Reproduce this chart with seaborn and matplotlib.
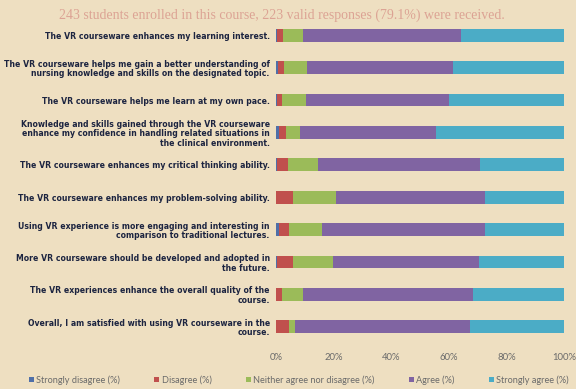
import matplotlib
matplotlib.use("Agg")
import matplotlib.pyplot as plt
from matplotlib.patches import Patch
import numpy as np
import pandas as pd
import seaborn as sns

statements = [
    "The VR courseware enhances my learning interest.",
    "The VR courseware helps me gain a better understanding of\nnursing knowledge and skills on the designated topic.",
    "The VR courseware helps me learn at my own pace.",
    "Knowledge and skills gained through the VR courseware\nenhance my confidence in handling related situations in\nthe clinical environment.",
    "The VR courseware enhances my critical thinking ability.",
    "The VR courseware enhances my problem-solving ability.",
    "Using VR experience is more engaging and interesting in\ncomparison to traditional lectures.",
    "More VR courseware should be developed and adopted in\nthe future.",
    "The VR experiences enhance the overall quality of the\ncourse.",
    "Overall, I am satisfied with using VR courseware in the\ncourse.",
]

strongly_disagree = [0.5, 0.7, 0.4, 0.9, 0.4, 0.0, 0.9, 0.4, 0.0, 0.0]
disagree = [1.8, 2.1, 1.7, 2.5, 3.6, 5.8, 3.6, 5.4, 2.1, 4.4]
neutral = [7.0, 7.8, 8.2, 4.9, 10.5, 14.9, 11.6, 13.9, 7.3, 2.3]
agree = [54.8, 50.9, 49.8, 47.3, 56.3, 51.7, 56.3, 50.8, 59.1, 60.7]
strongly_agree = [35.9, 38.5, 39.9, 44.4, 29.2, 27.6, 27.6, 29.5, 31.5, 32.6]

series_names = ["Strongly disagree (%)", "Disagree (%)",
                "Neither agree nor disagree (%)", "Agree (%)",
                "Strongly agree (%)"]
series_values = [strongly_disagree, disagree, neutral, agree, strongly_agree]
colors = ["#4F6FA8", "#C0504D", "#9BBB59", "#8064A2", "#4BACC6"]
tick_values = [0, 20, 40, 60, 80, 100]
tick_labels = ["0%", "20%", "40%", "60%", "80%", "100%"]
title = "243 students enrolled in this course, 223 valid responses (79.1%) were received."

bg = "#EEDFC1"
sns.set_theme(style="white")
plt.rcParams["font.family"] = ["DejaVu Sans"]

fig = plt.figure(figsize=(5.76, 3.89), dpi=100, facecolor=bg)
ax = fig.add_axes([276 / 576, 1 - 343 / 389, 288 / 576, 324 / 389])
ax.set_facecolor(bg)

df = pd.DataFrame(np.array(series_values).T, columns=series_names)
df["statement"] = statements
cum = df[series_names].cumsum(axis=1)

# stacked bars: draw the running totals from the widest down so each
# shorter total sits on top of the longer one
for name, color in reversed(list(zip(series_names, colors))):
    sns.barplot(x=cum[name], y=df["statement"], color=color, orient="h",
                width=0.4, ax=ax, saturation=1, edgecolor="none")

ax.set_xlim(0, 100)
ax.set_xticks(tick_values)
ax.set_xticklabels(tick_labels, fontsize=6.8, color="#6A6A6A", family="Lato")
ax.set_xlabel("")
ax.set_ylabel("")
ax.tick_params(axis="y", length=0, pad=4.5)
ax.tick_params(axis="x", length=0, pad=7)
for lab in ax.get_yticklabels():
    lab.set_fontsize(5.6)
    lab.set_fontweight("bold")
    lab.set_color("#1C2440")
    lab.set_linespacing(1.1)
for s in ax.spines.values():
    s.set_visible(False)

handles = [Patch(facecolor=c, edgecolor="none") for c in colors]
fig.legend(handles, series_names, loc="center", bbox_to_anchor=(0.519, 1 - 380 / 389),
           ncol=5, frameon=False, handlelength=0.55, handleheight=0.55,
           handletextpad=0.25, columnspacing=3.75,
           prop={"family": "Lato", "size": 6.6}, labelcolor="#6A6A6A")

fig.text(282 / 576, 1 - 15 / 389, title, ha="center", va="center",
         family="Liberation Serif", fontsize=10, color="#DCA394")

fig.savefig("out.png", dpi=100, facecolor=bg)
